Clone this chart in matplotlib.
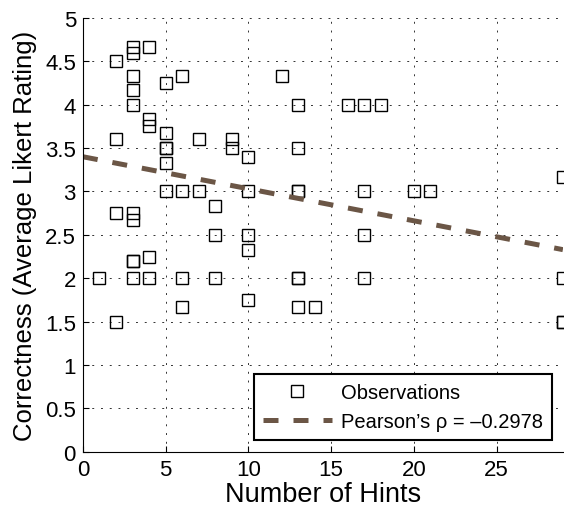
import numpy as np
import matplotlib
matplotlib.use('Agg')
import matplotlib.pyplot as plt

plt.rcParams['font.family'] = ['Liberation Sans', 'DejaVu Sans']

# observations: number of hints vs average likert rating
hints = [1,
         2, 2, 2, 2,
         3, 3, 3, 3, 3, 3, 3, 3, 3, 3,
         4, 4, 4, 4, 4,
         5, 5, 5, 5, 5, 5,
         6, 6, 6, 6,
         7, 7,
         8, 8, 8,
         9, 9,
         10, 10, 10, 10, 10,
         12,
         13, 13, 13, 13, 13, 13, 13,
         14,
         16,
         17, 17, 17, 17,
         18,
         20,
         21,
         29, 29, 29, 29]
rating = [2.0,
          4.5, 3.6, 2.75, 1.5,
          4.67, 4.6, 4.33, 4.17, 4.0, 2.75, 2.67, 2.2, 2.2, 2.0,
          4.67, 3.83, 3.75, 2.25, 2.0,
          4.25, 3.67, 3.5, 3.5, 3.33, 3.0,
          4.33, 3.0, 2.0, 1.67,
          3.6, 3.0,
          2.83, 2.5, 2.0,
          3.6, 3.5,
          3.4, 3.0, 2.5, 2.33, 1.75,
          4.33,
          4.0, 3.5, 3.0, 3.0, 2.0, 2.0, 1.67,
          1.67,
          4.0,
          4.0, 3.0, 2.5, 2.0,
          4.0,
          3.0,
          3.0,
          3.17, 2.0, 1.5, 1.5]

# fitted trend line
trend_x = [0, 29]
trend_y = [3.40, 2.33]

fig = plt.figure(figsize=(5.64, 5.10), dpi=100)
ax = fig.add_axes([0.147, 0.112, 0.851, 0.851])

ax.plot(hints, rating, 's', markersize=8.5, markerfacecolor='none',
        markeredgecolor='black', markeredgewidth=1.0, label='Observations')
ax.plot(trend_x, trend_y, color='#6b5646', linewidth=3.6,
        dashes=(3, 3), label='Pearson\u2019s \u03c1 = \u20130.2978')

ax.set_xlim(0, 29)
ax.set_ylim(0, 5)
ax.set_xticks([0, 5, 10, 15, 20, 25])
ax.set_yticks(np.arange(0, 5.01, 0.5))
ax.set_yticklabels(['0', '0.5', '1', '1.5', '2', '2.5', '3', '3.5', '4', '4.5', '5'])
ax.tick_params(direction='in', labelsize=16, length=4, pad=5)
ax.grid(True, linestyle=(0, (2, 7)), color='#333333', linewidth=0.7)
ax.spines['top'].set_visible(False)
ax.spines['right'].set_visible(False)

ax.set_xlabel('Number of Hints', fontsize=19.5, labelpad=1)
ax.set_ylabel('Correctness (Average Likert Rating)', fontsize=18.5, labelpad=6)

leg = ax.legend(loc='lower right', fontsize=14.5, fancybox=False, framealpha=1,
                edgecolor='black', handlelength=3.4, handletextpad=0.45,
                borderpad=0.45, labelspacing=0.5, borderaxespad=0,
                bbox_to_anchor=(0.977, 0.028))
leg.get_frame().set_linewidth(1.5)

plt.savefig('out.png', dpi=100)
